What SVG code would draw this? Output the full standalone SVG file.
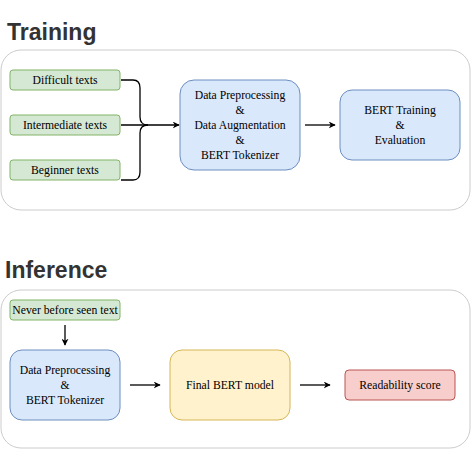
<svg xmlns="http://www.w3.org/2000/svg" width="472" height="451" viewBox="0 0 472 451">
<style>
.title{font-family:"Liberation Sans",Arial,sans-serif;font-weight:bold;font-size:23px;fill:#333333}
.lbl{font-family:'Liberation Serif','Times New Roman','DejaVu Serif',serif;font-size:11.7px;fill:#000000;text-anchor:middle}
.cont{fill:#ffffff;stroke:#cccccc;stroke-width:1}
.green{fill:#d5e8d4;stroke:#82b366;stroke-width:1}
.blue{fill:#dae8fc;stroke:#6c8ebf;stroke-width:1}
.yellow{fill:#fff2cc;stroke:#d6b656;stroke-width:1}
.red{fill:#f8cecc;stroke:#b85450;stroke-width:1}
.edge{fill:none;stroke:#000;stroke-width:1.3}
</style>
<defs>
<marker id="arr" viewBox="0 0 10 10" refX="9" refY="5" markerWidth="7" markerHeight="7" markerUnits="userSpaceOnUse" orient="auto">
<path d="M0,0 L10,5 L0,10 L3,5 Z" fill="#000"/>
</marker>
</defs>
<rect width="472" height="451" fill="#ffffff"/>
<text class="title" x="7" y="40">Training</text>
<text class="title" x="5" y="278">Inference</text>
<rect class="cont" x="1" y="50" width="469" height="160" rx="20"/>
<rect class="cont" x="1" y="290" width="469" height="158" rx="20"/>

<g id="difficult"><rect class="green" x="10" y="70" width="110" height="20" rx="3"/><text class="lbl" x="65" y="84">Difficult texts</text></g>
<g id="intermediate"><rect class="green" x="10" y="115" width="110" height="20" rx="3"/><text class="lbl" x="65" y="129">Intermediate texts</text></g>
<g id="beginner"><rect class="green" x="10" y="160" width="110" height="20" rx="3"/><text class="lbl" x="65" y="174">Beginner texts</text></g>
<g id="prep1"><rect class="blue" x="180" y="80" width="120" height="90" rx="14"/>
<text class="lbl" x="240" y="99">Data Preprocessing</text><text class="lbl" x="240" y="114">&amp;</text><text class="lbl" x="240" y="129">Data Augmentation</text><text class="lbl" x="240" y="144">&amp;</text><text class="lbl" x="240" y="159">BERT Tokenizer</text></g>
<g id="train"><rect class="blue" x="340" y="90" width="120" height="70" rx="12"/>
<text class="lbl" x="400" y="114">BERT Training</text><text class="lbl" x="400" y="129">&amp;</text><text class="lbl" x="400" y="144">Evaluation</text></g>

<g id="newtext"><rect class="green" x="10" y="300" width="110" height="20" rx="3"/><text class="lbl" x="65" y="314">Never before seen text</text></g>
<g id="prep2"><rect class="blue" x="10" y="350" width="110" height="70" rx="12"/>
<text class="lbl" x="65" y="374">Data Preprocessing</text><text class="lbl" x="65" y="389">&amp;</text><text class="lbl" x="65" y="404">BERT Tokenizer</text></g>
<g id="model"><rect class="yellow" x="170" y="350" width="120" height="70" rx="12"/><text class="lbl" x="230" y="389">Final BERT model</text></g>
<g id="score"><rect class="red" x="345" y="370" width="110" height="30" rx="4"/><text class="lbl" x="400" y="389">Readability score</text></g>

<g id="connectors">
<path class="edge" d="M121,80 L133,80 Q140,80 140,88 L140,117 Q140,125 148,125"/>
<path class="edge" d="M121,180 L133,180 Q140,180 140,172 L140,133 Q140,125 148,125"/>
<path class="edge" d="M121,125 L179,125" marker-end="url(#arr)"/>
<path class="edge" d="M305,125 L335,125" marker-end="url(#arr)"/>
<path class="edge" d="M65,325 L65,345" marker-end="url(#arr)"/>
<path class="edge" d="M130,385 L160,385" marker-end="url(#arr)"/>
<path class="edge" d="M300,385 L330,385" marker-end="url(#arr)"/>
</g>
</svg>
